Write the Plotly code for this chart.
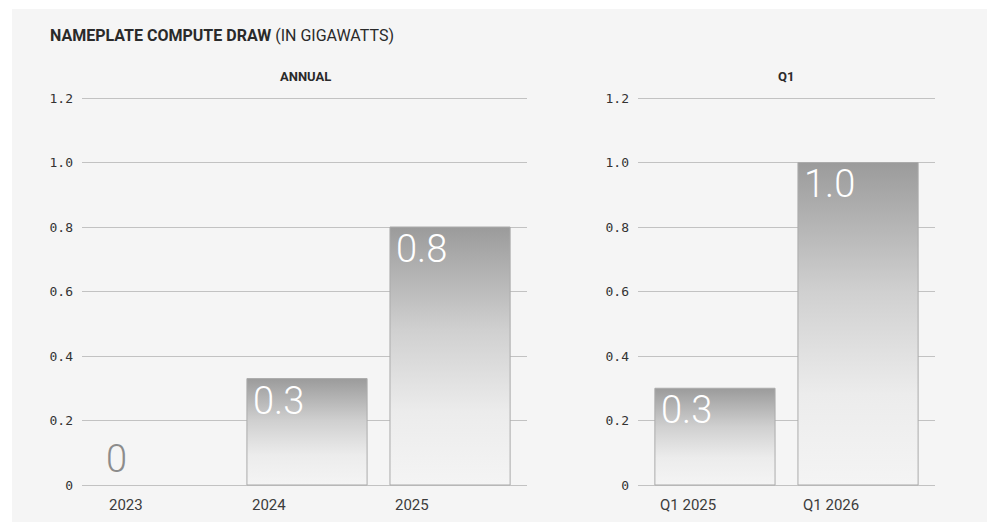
import plotly.graph_objects as go

# ---- data ----
annual_cats = ["2023", "2024", "2025"]
annual_vals = [0.0, 0.33, 0.8]
q1_cats = ["Q1 2025", "Q1 2026"]
q1_vals = [0.3, 1.0]
y_ticks = [0, 0.2, 0.4, 0.6, 0.8, 1.0, 1.2]
y_ticktext = ["0", "0.2", "0.4", "0.6", "0.8", "1.0", "1.2"]
title_bold = "NAMEPLATE COMPUTE DRAW"
title_rest = " (IN GIGAWATTS)"
panel_titles = ["ANNUAL", "Q1"]

W, H = 987, 522
BAR_W = 0.84
BG = "#f5f5f5"
GRID = "#c2c2c2"
OUTLINE = "#ababab"
GRAD = [[0.0, "#f4f4f4"], [0.28, "#ececec"], [0.6, "#d0d0d0"], [1.0, "#9b9b9b"]]

fig = go.Figure()


def add_panel(cats, vals, xa, ya):
    for i, v in enumerate(vals):
        l, r = i - BAR_W / 2, i + BAR_W / 2
        if v > 0:
            fig.add_trace(go.Scatter(
                x=[l, r, r, l, l], y=[0, 0, v, v, 0],
                mode="lines", fill="toself",
                fillgradient=dict(type="vertical", colorscale=GRAD, start=0, stop=v),
                line=dict(color=OUTLINE, width=1),
                xaxis=xa, yaxis=ya, showlegend=False, hoverinfo="skip",
            ))
            fig.add_annotation(x=l, y=v, xref=xa, yref=ya, text=f"{v:.1f}",
                               xanchor="left", yanchor="top", xshift=4, yshift=2,
                               showarrow=False,
                               font=dict(family="Roboto", size=38, color="white", weight=300))
        else:
            fig.add_annotation(x=l, y=0, xref=xa, yref=ya, text="0",
                               xanchor="left", yanchor="bottom", xshift=0, yshift=2,
                               showarrow=False,
                               font=dict(family="Roboto", size=38, color="#8c8c8c", weight=300))
        # category label, left aligned under bar
        fig.add_annotation(x=l, y=0, xref=xa, yref=ya, text=cats[i],
                           xanchor="left", yanchor="top", xshift=3, yshift=-9,
                           showarrow=False,
                           font=dict(family="Roboto", size=15, color="#3c3c3c"))


add_panel(annual_cats, annual_vals, "x", "y")
add_panel(q1_cats, q1_vals, "x2", "y2")

ext = 0.012
px_per_unit = (485 - 98) / 1.2
ydom = [(H - 485 - ext * px_per_unit) / H, (H - 98 + ext * px_per_unit) / H]
yax = dict(range=[-ext, 1.2 + ext], tickvals=y_ticks, ticktext=y_ticktext, showgrid=True,
           gridcolor=GRID, gridwidth=1, zeroline=False, showline=False, ticks="",
           tickfont=dict(family="DejaVu Sans Mono", size=13, color="#333333"),
           ticklabelstandoff=8, fixedrange=True, automargin=False)
xax = dict(showgrid=False, zeroline=False, showline=False, showticklabels=False, ticks="",
           fixedrange=True, automargin=False)

fig.update_layout(
    width=W, height=H,
    margin=dict(l=0, r=0, t=0, b=0, pad=0, autoexpand=False),
    paper_bgcolor="white", plot_bgcolor=BG,
    xaxis=dict(xax, domain=[82 / W, 527 / W], range=[-0.573, 2.538]),
    xaxis2=dict(xax, domain=[638 / W, 935 / W], range=[-0.538, 1.538]),
    yaxis=dict(yax, domain=ydom, anchor="x"),
    yaxis2=dict(yax, domain=ydom, anchor="x2"),
    shapes=[dict(type="rect", xref="paper", yref="paper", x0=12 / W, x1=1, y0=0,
                 y1=(H - 9) / H, fillcolor=BG, line=dict(width=0), layer="below")],
    showlegend=False,
)

fig.add_annotation(x=48 / W, y=(H - 35) / H, xref="paper", yref="paper",
                   xanchor="left", yanchor="middle", showarrow=False,
                   text=f"<b>{title_bold}</b>{title_rest}",
                   font=dict(family="Roboto", size=16, color="#2a2a2a"))
fig.add_annotation(x=305 / W, y=(H - 76) / H, xref="paper", yref="paper",
                   xanchor="center", yanchor="middle", showarrow=False,
                   text=f"<b>{panel_titles[0]}</b>",
                   font=dict(family="Roboto", size=13, color="#2a2a2a"))
fig.add_annotation(x=786 / W, y=(H - 76) / H, xref="paper", yref="paper",
                   xanchor="center", yanchor="middle", showarrow=False,
                   text=f"<b>{panel_titles[1]}</b>",
                   font=dict(family="Roboto", size=13, color="#2a2a2a"))

fig.write_html("out.html")
